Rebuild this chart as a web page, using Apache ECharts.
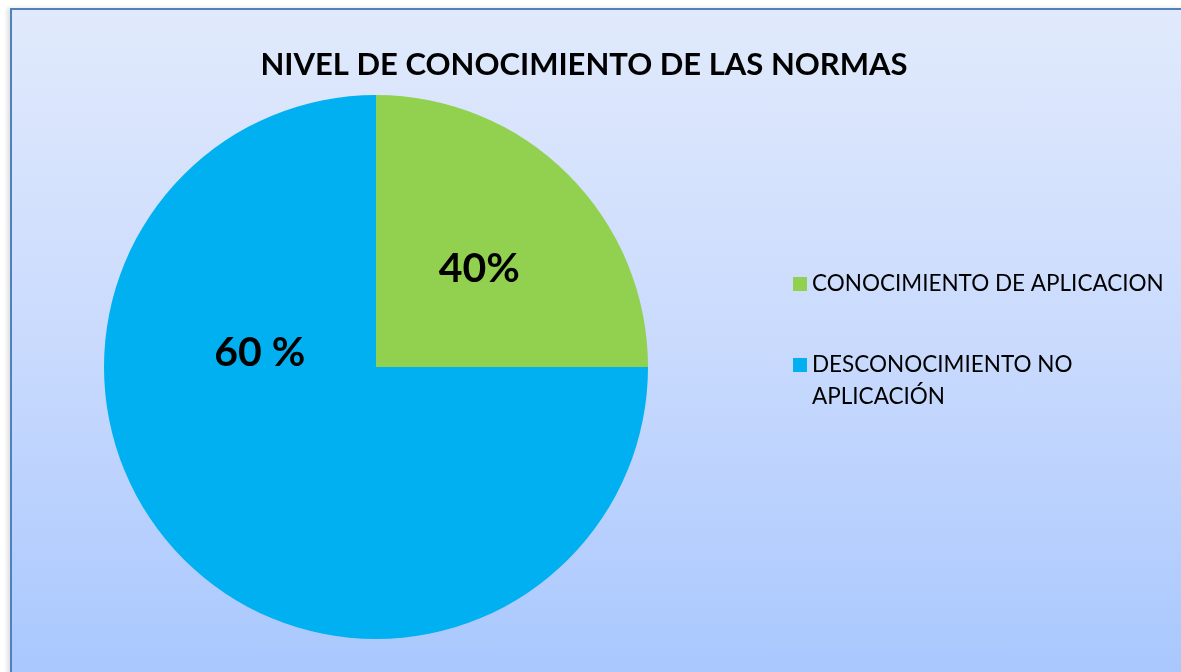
<!DOCTYPE html>
<html>
<head>
<meta charset="utf-8">
<script src="https://cdn.jsdelivr.net/npm/echarts@6/dist/echarts.min.js"></script>
<style>
    html, body { margin: 0; padding: 0; background: #ffffff; overflow: hidden; }
    #pieNormas {
        position: absolute;
        left: 10px;
        top: 8px;
        width: 1181px;
        height: 672px;
        border: 2px solid #4F81BD;
        box-shadow: -3px 0 4px rgba(0, 0, 0, 0.12);
        background: linear-gradient(to bottom, #E1EAFC 0%, #C9DAFD 50%, #A8C7FE 100%);
    }
</style>
</head>
<body>
<div id="pieNormas"></div>
<script>
    // categories as shown in the legend
    let categories = ['CONOCIMIENTO DE APLICACION', 'DESCONOCIMIENTO NO APLICACIÓN'];
    // slice sizes as drawn (quarter / three quarters)
    let sliceValues = [25, 75];
    // labels typed on the slices in the original
    let sliceLabels = ['40%', '60 %'];
    let sliceColors = ['#92D050', '#00B0F0'];

    let chartDom = document.getElementById('pieNormas');
    let myChart = echarts.init(chartDom);
    let option;

    let pieData = [];
    for (let i = 0; i < categories.length; i++) {
        pieData.push({
            name: categories[i],
            value: sliceValues[i],
            itemStyle: { color: sliceColors[i] },
            label: i === 1 ? { offset: [-18, -113] } : { offset: [5, 0] }
        });
    }

    option = {
        backgroundColor: 'transparent',
        title: {
            text: 'NIVEL DE CONOCIMIENTO DE LAS NORMAS',
            left: 567,
            top: 34,
            textAlign: 'center',
            textStyle: {
                color: '#000000',
                fontFamily: 'Lato',
                fontWeight: 'bold',
                fontSize: 31
            }
        },
        legend: {
            orient: 'vertical',
            left: 776,
            top: 253,
            itemWidth: 14,
            itemHeight: 14,
            itemGap: 17,
            icon: 'rect',
            data: categories,
            // blank first line keeps the marker beside the first text line
            formatter: function (name) {
                return name === categories[1] ? '\nDESCONOCIMIENTO NO\nAPLICACIÓN' : name;
            },
            textStyle: {
                color: '#000000',
                fontFamily: 'Lato',
                fontSize: 22.5,
                lineHeight: 32
            }
        },
        series: [{
            type: 'pie',
            center: [364, 357],
            radius: [0, 272],
            startAngle: 90,
            clockwise: true,
            silent: true,
            animation: false,
            label: {
                show: true,
                position: 'inside',
                formatter: function (p) {
                    return sliceLabels[p.dataIndex];
                },
                color: '#000000',
                fontFamily: 'Lato',
                fontWeight: 'bold',
                fontSize: 41
            },
            labelLine: { show: false },
            data: pieData
        }]
    };

    option && myChart.setOption(option);
</script>
</body>
</html>
